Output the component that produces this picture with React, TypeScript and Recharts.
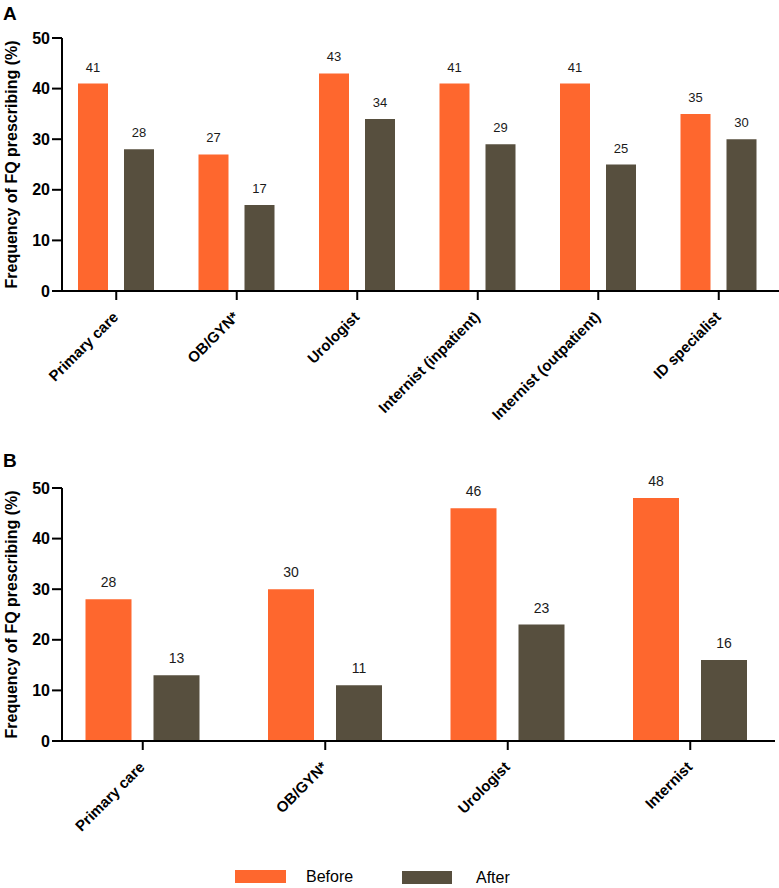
import { BarChart, Bar, XAxis, YAxis, LabelList } from 'recharts';

const specialtiesA = ['Primary care', 'OB/GYN*', 'Urologist', 'Internist (inpatient)', 'Internist (outpatient)', 'ID specialist'];
const beforeA = [41, 27, 43, 41, 41, 35];
const afterA = [28, 17, 34, 29, 25, 30];

const specialtiesB = ['Primary care', 'OB/GYN*', 'Urologist', 'Internist'];
const beforeB = [28, 30, 46, 48];
const afterB = [13, 11, 23, 16];

const yTicks = [0, 10, 20, 30, 40, 50];

const ORANGE = '#fe672e';
const DARK = '#574f3e';
const FONT = '"Liberation Sans", Arial, Helvetica, sans-serif';

const dataA = specialtiesA.map((name, i) => ({ name, before: beforeA[i], after: afterA[i] }));
const dataB = specialtiesB.map((name, i) => ({ name, before: beforeB[i], after: afterB[i] }));

const CatTick = ({ x, y, payload }: any) => (
    <text
        transform={`translate(${x + 3},${y + 16}) rotate(-45)`}
        textAnchor="end"
        fontSize={15}
        fontWeight="bold"
        fontFamily={FONT}
        fill="#000"
    >
        {payload.value}
    </text>
);

const YTitle = ({ viewBox }: any) => {
    const cy = viewBox.y + viewBox.height / 2;
    return (
        <text
            x={11}
            y={cy}
            transform={`rotate(-90, 11, ${cy})`}
            textAnchor="middle"
            dominantBaseline="central"
            fontSize={16}
            fontWeight="bold"
            fontFamily={FONT}
            fill="#000"
        >
            Frequency of FQ prescribing (%)
        </text>
    );
};

// value above each bar, always near-black
const valueLabel = (size: number, offset: number) => (props: any) => {
    const { x, y, width, value } = props;
    return (
        <text x={x + width / 2} y={y - offset} textAnchor="middle" fontSize={size} fontFamily={FONT} fill="#1a1a1a">
            {value}
        </text>
    );
};

const axisStyle = { stroke: '#000', strokeWidth: 2 };

function Panel({ data, width, height, top, xHeight, padding, barSize, barGap, labelSize, labelOffset }: any) {
    return (
        <BarChart width={width} height={height} data={data} margin={{ top, right: 779 - width, left: 0, bottom: 0 }} barGap={barGap}>
            <XAxis
                dataKey="name"
                interval={0}
                height={xHeight}
                padding={padding}
                axisLine={axisStyle}
                tickLine={axisStyle}
                tickSize={9}
                tickMargin={2}
                tick={<CatTick />}
            />
            <YAxis
                width={62}
                domain={[0, 50]}
                ticks={yTicks}
                axisLine={axisStyle}
                tickLine={axisStyle}
                tickSize={10}
                tick={{ fontSize: 16, fontWeight: 'bold', fill: '#000', fontFamily: FONT }}
                label={<YTitle />}
            />
            <Bar dataKey="before" fill={ORANGE} barSize={barSize} isAnimationActive={false}>
                <LabelList dataKey="before" content={valueLabel(labelSize, labelOffset)} />
            </Bar>
            <Bar dataKey="after" fill={DARK} barSize={barSize} isAnimationActive={false}>
                <LabelList dataKey="after" content={valueLabel(labelSize, labelOffset)} />
            </Bar>
        </BarChart>
    );
}

export default function App() {
    return (
        <div style={{ position: 'absolute', left: 0, top: 0, width: 779, height: 888, background: '#fff', fontFamily: FONT }}>
            <div style={{ position: 'absolute', left: 0, top: 0 }}>
                <Panel data={dataA} width={779} height={460} top={38} xHeight={169} padding={{ left: -6, right: 0 }} barSize={30} barGap={16} labelSize={13} labelOffset={12} />
            </div>
            <div style={{ position: 'absolute', left: 0, top: 460 }}>
                <Panel data={dataB} width={777} height={428} top={28} xHeight={147} padding={{ left: -10.5, right: -6.5 }} barSize={46} barGap={22} labelSize={14} labelOffset={12} />
            </div>
            <div style={{ position: 'absolute', left: 3, top: 3, fontSize: 19, fontWeight: 'bold' }}>A</div>
            <div style={{ position: 'absolute', left: 3, top: 450, fontSize: 19, fontWeight: 'bold' }}>B</div>
            <div style={{ position: 'absolute', left: 235, top: 870, width: 51, height: 13, background: ORANGE }} />
            <div style={{ position: 'absolute', left: 306, top: 867, fontSize: 16, lineHeight: '20px' }}>Before</div>
            <div style={{ position: 'absolute', left: 402, top: 871, width: 50, height: 13, background: DARK }} />
            <div style={{ position: 'absolute', left: 476, top: 868, fontSize: 16, lineHeight: '20px' }}>After</div>
        </div>
    );
}
